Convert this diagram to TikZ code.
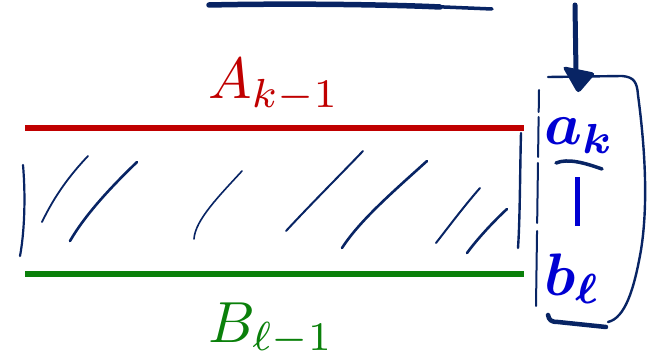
\documentclass[tikz,border=0pt]{standalone}
\usepackage{graphicx}
\usepackage{amsmath,bm}
\definecolor{ink}{RGB}{8,36,100}
\definecolor{redl}{RGB}{192,0,0}
\definecolor{greenl}{RGB}{10,128,10}
\definecolor{bluet}{RGB}{0,0,210}
\tikzset{
  pen/.style={draw=ink,line width=2.2pt,line cap=round,line join=round},
  hatch/.style={pen,line width=1.8pt},
  bar/.style={line width=6pt},
  bigmath/.style={inner sep=0pt},
  boldmath/.style={inner sep=0pt,text=bluet}
}
\begin{document}
\begin{tikzpicture}[x=1pt,y=-1pt]
\useasboundingbox (0,0) rectangle (654,361);
% top stroke
\draw[pen,line width=5.5pt] (209,5) .. controls (300,3) and (400,5) .. (440,7);
\draw[pen,line width=3.5pt] (420,6) -- (492,9);
% labels
\node[bigmath,text=redl,anchor=base west] (A) at (208,99) {\scalebox{5.8}{$A_{k-1}$}};
\node[bigmath,text=greenl,anchor=base west] (B) at (208,342) {\scalebox{5.8}{$B_{\ell-1}$}};
% lines
\draw[redl,bar] (25,128) coordinate (r1) -- (524,128) coordinate (r2);
\draw[greenl,bar] (25,274) coordinate (g1) -- (524,274) coordinate (g2);
% side bars
\draw[pen,line width=2.2pt] (23,165) .. controls (26,200) and (24,235) .. (20,256);
\draw[pen,line width=2.4pt] (521,133) .. controls (520,170) and (520,220) .. (518,248);
% hatches
\draw[hatch] (42,222) .. controls (55,195) and (70,175) .. (88,156);
\draw[hatch,line width=2.6pt] (70,241) .. controls (85,215) and (110,188) .. (137,162);
\draw[hatch,line width=1.6pt] (194,239) .. controls (195,220) and (220,195) .. (242,171);
\draw[hatch,line width=2pt] (286,231) .. controls (310,205) and (345,170) .. (363,151);
\draw[hatch,line width=2.6pt] (342,248) .. controls (360,220) and (395,190) .. (427,161);
\draw[hatch,line width=2pt] (436,243) .. controls (450,225) and (465,205) .. (480,188);
\draw[hatch,line width=2.6pt] (467,253) .. controls (478,238) and (495,220) .. (507,209);
% arrow
\draw[pen,line width=5pt] (575,5) -- (576,72) coordinate (ah);
\fill[ink,rounded corners=4pt] (562,66) -- (596,73) -- (578,94) -- cycle;
% box
\draw[pen,line width=2.4pt] (548,77) -- (622,76) .. controls (634,77) and (637,82) .. (638,95)
  .. controls (644,140) and (649,200) .. (641,250) .. controls (634,290) and (625,318) .. (608,322);
\draw[pen,line width=2pt,dash pattern=on 22pt off 5pt on 40pt off 6pt on 60pt off 8pt on 80pt off 4pt] (539,90) -- (536,306);
\draw[pen,line width=4.5pt] (548,315) .. controls (549,320) and (551,322) .. (558,322) -- (606,327);
% blue letters
\node[boldmath,anchor=base west] (ak) at (544,145) {\scalebox{6}{$\bm{a}_{\bm{k}}$}};
\node[boldmath,anchor=base west] (bl) at (544,295) {\scalebox{6}{$\bm{b}_{\bm{\ell}}$}};
\draw[pen,line width=3.5pt] (556,163) .. controls (568,158) and (585,163) .. (602,169);
\draw[bluet,line width=5pt] (577,177) -- (577,226);
\end{tikzpicture}
\end{document}
